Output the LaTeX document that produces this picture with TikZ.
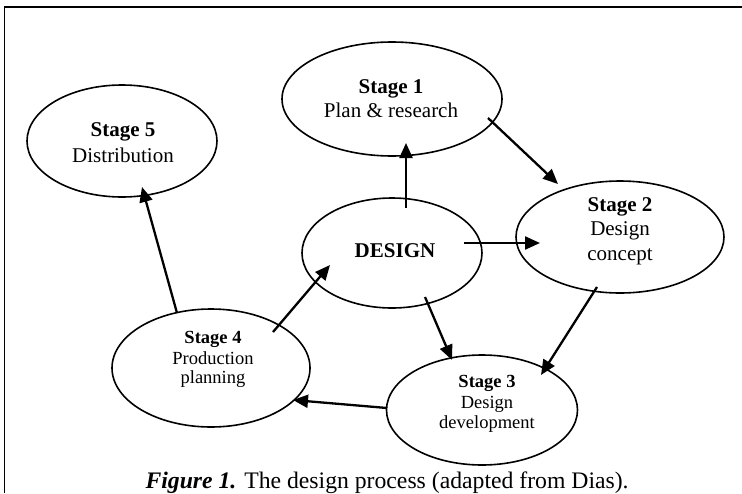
\documentclass[tikz,border=0pt]{standalone}
\usepackage{fontspec}
\setmainfont{Liberation Serif}
\usetikzlibrary{shapes.geometric,arrows.meta}
\begin{document}
\begin{tikzpicture}[x=1pt,y=-1pt,
  stagebox/.style={ellipse,draw,line width=1.6pt,inner sep=0pt},
  flow/.style={line width=2.3pt,-{Triangle[length=15pt,width=13pt]}},
  big/.style={font=\fontsize{21}{24}\selectfont,anchor=base},
  small/.style={font=\fontsize{18.5}{20.5}\selectfont,anchor=base}]
\useasboundingbox (0,0) rectangle (742,493);
\draw[line width=1.6pt] (742,7) -- (4.5,7) -- (4.5,493);
% ellipses
\node[stagebox,minimum width=220pt,minimum height=114pt] (s1) at (392,99) {};
\node[stagebox,minimum width=208pt,minimum height=112pt] (s2) at (620,237) {};
\node[stagebox,minimum width=180pt,minimum height=110pt] (d) at (392,253) {};
\node[stagebox,minimum width=191pt,minimum height=110pt] (s3) at (482,410) {};
\node[stagebox,minimum width=198pt,minimum height=118pt] (s4) at (211,368) {};
\node[stagebox,minimum width=190pt,minimum height=112pt] (s5) at (122,141) {};
% texts
\node[big] (s1a) at (391,93) {\textbf{Stage 1}};
\node[big] (s1b) at (391,117) {Plan \& research};
\node[big] (s2a) at (620,211) {\textbf{Stage 2}};
\node[big] (s2b) at (620,235) {Design};
\node[big] (s2c) at (620,260) {concept};
\node[big] (dt) at (395,257) {\textbf{DESIGN}};
\node[small] (s3a) at (487,387) {\textbf{Stage 3}};
\node[small] (s3b) at (487,408) {Design};
\node[small] (s3c) at (487,428) {development};
\node[small] (s4a) at (213,343) {\textbf{Stage 4}};
\node[small] (s4b) at (213,364) {Production};
\node[small] (s4c) at (213,383) {planning};
\node[big] (s5a) at (123,136) {\textbf{Stage 5}};
\node[big] (s5b) at (123,162) {Distribution};
\node[font=\fontsize{23.7}{28}\selectfont,anchor=base west] (cap) at (142,488)
  {\textbf{\textit{Figure 1.}} The design process (adapted from Dias).};
% arrows
\draw[flow] ([shift={(14,-45)}]d.center) -- ([shift={(14,44)}]s1.center);
\draw[flow] ([shift={(96,19)}]s1.center) -- ([shift={(-62,-53)}]s2.center);
\draw[flow] ([shift={(72,-10)}]d.center) -- ([shift={(-80,6)}]s2.center);
\draw[flow] ([shift={(-23,50)}]s2.center) -- ([shift={(59,-35)}]s3.center);
\draw[flow] ([shift={(33,44)}]d.center) -- ([shift={(-30,-50)}]s3.center);
\draw[flow] ([shift={(-95,-2)}]s3.center) -- ([shift={(82,32)}]s4.center);
\draw[flow] ([shift={(62,-36)}]s4.center) -- ([shift={(-62,12)}]d.center);
\draw[flow] ([shift={(-34,-55)}]s4.center) -- ([shift={(20,46)}]s5.center);
\end{tikzpicture}
\end{document}
